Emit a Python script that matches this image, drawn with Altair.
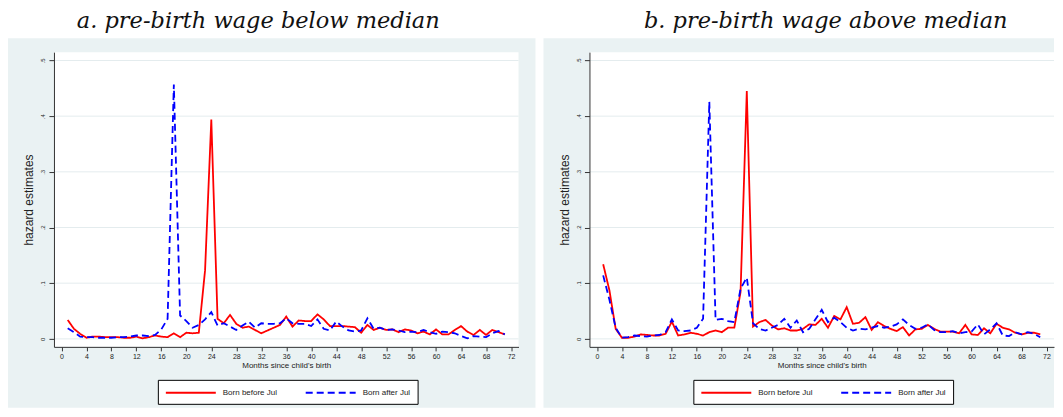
import altair as alt
import pandas as pd

# ---------------- data ----------------
months = list(range(1, 72))
groups = ["Born before Jul", "Born after Jul"]
titles = ["a. pre-birth wage below median", "b. pre-birth wage above median"]
x_ticks = list(range(0, 73, 4))
y_ticks = [0, 0.1, 0.2, 0.3, 0.4, 0.5]

below_before = [0.034, 0.018, 0.009, 0.002, 0.004, 0.004, 0.003, 0.003, 0.003, 0.002,
                0.002, 0.004, 0.001, 0.003, 0.006, 0.004, 0.003, 0.010, 0.003, 0.011,
                0.010, 0.011, 0.123, 0.394, 0.036, 0.028, 0.043, 0.027, 0.020, 0.022,
                0.016, 0.010, 0.015, 0.020, 0.025, 0.040, 0.022, 0.033, 0.032, 0.032,
                0.044, 0.035, 0.023, 0.023, 0.023, 0.022, 0.021, 0.011, 0.025, 0.016,
                0.020, 0.016, 0.017, 0.012, 0.017, 0.015, 0.010, 0.013, 0.008, 0.017,
                0.008, 0.008, 0.016, 0.023, 0.013, 0.007, 0.016, 0.007, 0.016, 0.012,
                0.008]
below_after = [0.019, 0.012, 0.004, 0.003, 0.003, 0.002, 0.002, 0.002, 0.003, 0.003,
               0.004, 0.006, 0.006, 0.005, 0.007, 0.017, 0.036, 0.457, 0.042, 0.032,
               0.020, 0.025, 0.035, 0.048, 0.024, 0.028, 0.022, 0.016, 0.024, 0.031,
               0.020, 0.028, 0.027, 0.027, 0.028, 0.037, 0.028, 0.027, 0.027, 0.023,
               0.035, 0.018, 0.015, 0.031, 0.022, 0.015, 0.013, 0.015, 0.037, 0.018,
               0.020, 0.016, 0.017, 0.015, 0.012, 0.013, 0.012, 0.016, 0.012, 0.009,
               0.013, 0.012, 0.010, 0.005, 0.001, 0.005, 0.004, 0.003, 0.010, 0.014,
               0.008]
above_before = [0.134, 0.087, 0.018, 0.002, 0.002, 0.004, 0.008, 0.007, 0.006, 0.006,
                0.009, 0.031, 0.006, 0.008, 0.011, 0.009, 0.006, 0.012, 0.015, 0.012,
                0.020, 0.020, 0.084, 0.445, 0.022, 0.030, 0.034, 0.024, 0.017, 0.019,
                0.015, 0.015, 0.018, 0.026, 0.025, 0.036, 0.020, 0.041, 0.035, 0.057,
                0.027, 0.029, 0.039, 0.016, 0.030, 0.023, 0.018, 0.014, 0.021, 0.006,
                0.017, 0.018, 0.025, 0.018, 0.013, 0.013, 0.013, 0.010, 0.025, 0.008,
                0.007, 0.019, 0.010, 0.027, 0.020, 0.017, 0.011, 0.008, 0.011, 0.011,
                0.008]
above_after = [0.114, 0.070, 0.020, 0.002, 0.003, 0.006, 0.005, 0.004, 0.006, 0.007,
               0.012, 0.035, 0.015, 0.014, 0.015, 0.020, 0.036, 0.426, 0.034, 0.036,
               0.032, 0.030, 0.090, 0.110, 0.028, 0.018, 0.015, 0.020, 0.025, 0.036,
               0.020, 0.033, 0.012, 0.018, 0.035, 0.052, 0.030, 0.038, 0.030, 0.020,
               0.015, 0.018, 0.017, 0.020, 0.023, 0.020, 0.022, 0.026, 0.035, 0.025,
               0.018, 0.020, 0.026, 0.016, 0.012, 0.012, 0.014, 0.010, 0.012, 0.013,
               0.026, 0.008, 0.017, 0.028, 0.006, 0.005, 0.012, 0.008, 0.012, 0.009,
               0.003]

# ---------------- style ----------------
GRAY = "#EAF2F3"
GRIDC = "#E4ECEE"
AXC = "#333333"
TXT = "#222222"
SANS = "Liberation Sans"
SERIF = "DejaVu Serif"
W, H = 465, 295
XDOM = [-1.2, 73.2]
YDOM = [-0.0144, 0.515]

xscale = alt.Scale(domain=XDOM, nice=False, zero=False)
yscale = alt.Scale(domain=YDOM, nice=False, zero=False)
cscale = alt.Scale(domain=groups, range=["#FF0000", "#0000FF"])
dscale = alt.Scale(domain=groups, range=[[1, 0], [7, 4]])

xaxis = alt.Axis(values=x_ticks, title="Months since child's birth", grid=False, zindex=1,
                 labelFont=SANS, labelFontSize=7, labelColor=TXT, labelPadding=2,
                 labelFlush=False, tickSize=4, tickColor=AXC, domainColor=AXC,
                 titleFont=SANS, titleFontSize=8, titleFontWeight="normal",
                 titleColor=TXT, titlePadding=2)
yaxis = alt.Axis(values=y_ticks, title="hazard estimates", grid=False, zindex=1,
                 labelExpr="datum.value == 0 ? '0' : replace(format(datum.value, '.1f'), '0.', '.')",
                 labelAngle=270, labelAlign="center", labelBaseline="bottom",
                 labelFont=SANS, labelFontSize=6, labelColor=TXT, labelPadding=3,
                 tickSize=5, tickColor=AXC, domainColor=AXC,
                 titleFont=SANS, titleFontSize=12, titleFontWeight="normal",
                 titleColor=TXT, titlePadding=4)


def legend_def():
    return alt.Legend(title=None, orient="none", legendX=(W - 257) / 2, legendY=H + 33,
                      direction="horizontal", symbolType="M-1,0H9", symbolSize=100,
                      symbolStrokeWidth=2, labelFont=SANS, labelFontSize=8,
                      labelColor=TXT, labelOffset=46, columnPadding=24, padding=7,
                      strokeColor="black", fillColor="white", labelLimit=200)


def panel(before, after, title, dx, right_ext):
    df = pd.DataFrame({
        "month": months * 2,
        "hazard": before + after,
        "group": [groups[0]] * len(months) + [groups[1]] * len(months),
    })
    dummy = pd.DataFrame({"k": [0]})
    bg = alt.Chart(dummy).mark_rect(color=GRAY).encode(
        x=alt.value(-46), x2=alt.value(W + right_ext),
        y=alt.value(-14), y2=alt.value(H + 61))
    plot_bg = alt.Chart(dummy).mark_rect(color="white").encode(
        x=alt.value(0), x2=alt.value(W), y=alt.value(0), y2=alt.value(H))
    grid = alt.Chart(pd.DataFrame({"hazard": y_ticks})).mark_rule(
        color=GRIDC, strokeWidth=1).encode(
        y=alt.Y("hazard:Q", scale=yscale, axis=yaxis))

    def series(name):
        return alt.Chart(df[df["group"] == name]).mark_line(strokeWidth=1.8).encode(
            x=alt.X("month:Q", scale=xscale, axis=xaxis),
            y=alt.Y("hazard:Q", scale=yscale, axis=yaxis),
            color=alt.Color("group:N", scale=cscale, legend=legend_def()),
            strokeDash=alt.StrokeDash("group:N", scale=dscale, legend=legend_def()),
        )

    return alt.layer(bg, plot_bg, grid, series(groups[0]), series(groups[1])).properties(
        width=W, height=H,
        title=alt.TitleParams(title, font=SERIF, fontStyle="italic", fontSize=22.5,
                              fontWeight="normal", color="#111111", anchor="middle",
                              frame="group", dx=dx, offset=-12, baseline="alphabetic"),
    )


left = panel(below_before, below_after, titles[0], -28, 17)
right = panel(above_before, above_after, titles[1], 4, 0)

chart = alt.hconcat(left, right, spacing=8).resolve_scale(
    color="independent", strokeDash="independent"
).properties(
    padding={"left": 0, "top": 1, "right": 0, "bottom": 0}
).configure(background="white").configure_view(strokeWidth=0)

chart.save("out.html", embed_options={"renderer": "svg", "actions": False})
